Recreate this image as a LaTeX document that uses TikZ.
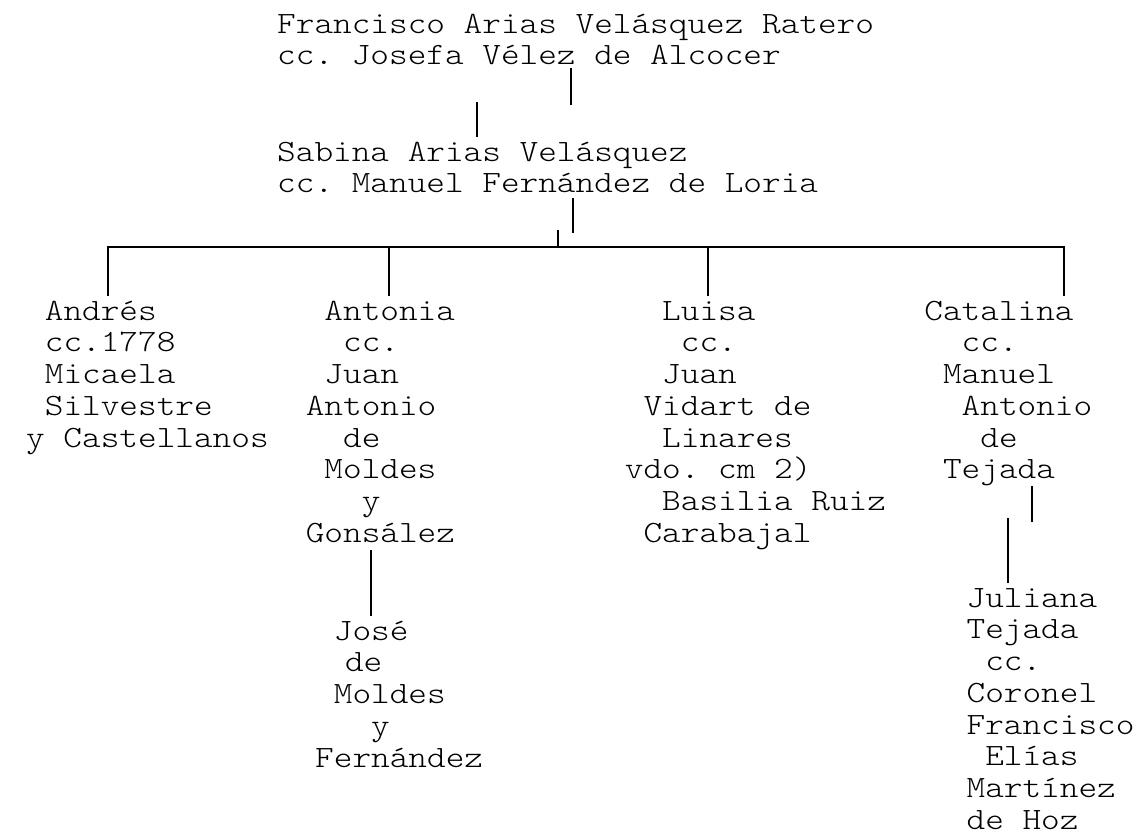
\documentclass[tikz,border=0pt]{standalone}
\usepackage{fontspec}
\newfontfamily\treefont{Latin Modern Mono Light}[FakeStretch=1.146]
\frenchspacing
\newlength\cw
\setlength\cw{18.65pt}
\newcommand\ind[1]{\hspace*{#1\cw}}
\newcommand\ls{\rule{0pt}{24pt}}
\tikzset{pers/.style={anchor=north west, inner sep=0pt, align=left,
    font=\treefont\fontsize{31}{31.7}\selectfont\frenchspacing},
  link/.style={line width=2pt}}

\begin{document}
\begin{tikzpicture}[x=1pt,y=-1pt]
\useasboundingbox (0,0) rectangle (1141,838);
\node[pers] (francisco) at (277,9) {\ls Francisco Arias Velásquez Ratero\\cc. Josefa Vélez de Alcocer};
\node[pers] (sabina) at (277,137) {\ls Sabina Arias Velásquez\\cc. Manuel Fernández de Loria};
\node[pers] (andres) at (26,296) {\ls\ind{1}Andrés\\\ind{1}cc.1778\\\ind{1}Micaela\\\ind{1}Silvestre\\y Castellanos};
\node[pers] (antonia) at (305.6,296) {\ls\ind{1}Antonia\\\ind{2}cc.\\\ind{1}Juan\\Antonio\\\ind{2}de\\\ind{1}Moldes\\\ind{3}y\\Gonsález};
\node[pers] (luisa) at (624.7,296) {\ls\ind{2}Luisa\\\ind{3}cc.\\\ind{2}Juan\\\ind{1}Vidart de\\\ind{2}Linares\\vdo. cm 2)\\\ind{2}Basilia Ruiz\\\ind{1}Carabajal};
\node[pers] (catalina) at (924.2,296) {\ls Catalina\\\ind{2}cc.\\\ind{1}Manuel\\\ind{2}Antonio\\\ind{3}de\\\ind{1}Tejada};
\node[pers] (jose) at (315,616) {\ls\ind{1}José\\\ind{1.6}de\\\ind{1}Moldes\\\ind{3}y\\Fernández};
\node[pers] (juliana) at (966.4,583) {\ls Juliana\\Tejada\\\ind{1}cc.\\Coronel\\Francisco\\\ind{1}Elías\\Martínez\\de Hoz};

\coordinate (fa) at (570.7,105);
\coordinate (sa) at (477.3,102);
\coordinate (sb) at (572.7,233);
\coordinate (sc) at (558.3,230);
\coordinate (bar) at (558.3,247);
\coordinate (barL) at (108,247);
\coordinate (barR) at (1063.7,247);
\coordinate (dant) at (389.3,247);
\coordinate (dlui) at (707.7,247);
\coordinate (an) at (370.7,550);
\coordinate (ca) at (1031.5,521.7);
\coordinate (ju) at (1008,518);

\draw[link] ([yshift=-3pt]francisco.south -| fa) -- (fa);
\draw[link] (sa) -- (sabina.north -| sa);
\draw[link] ([yshift=-5pt]sabina.south -| sb) -- (sb);
\draw[link] (sc) -- (bar);
\draw[link] (andres.north -| barL) -- (barL) -- (barR) -- (catalina.north -| barR);
\draw[link] (dant) -- (antonia.north -| dant);
\draw[link] (dlui) -- (luisa.north -| dlui);
\draw[link] (an) -- (jose.north -| an);
\draw[link] (catalina.south -| ca) -- (ca);
\draw[link] (ju) -- (juliana.north -| ju);
\end{tikzpicture}
\end{document}
